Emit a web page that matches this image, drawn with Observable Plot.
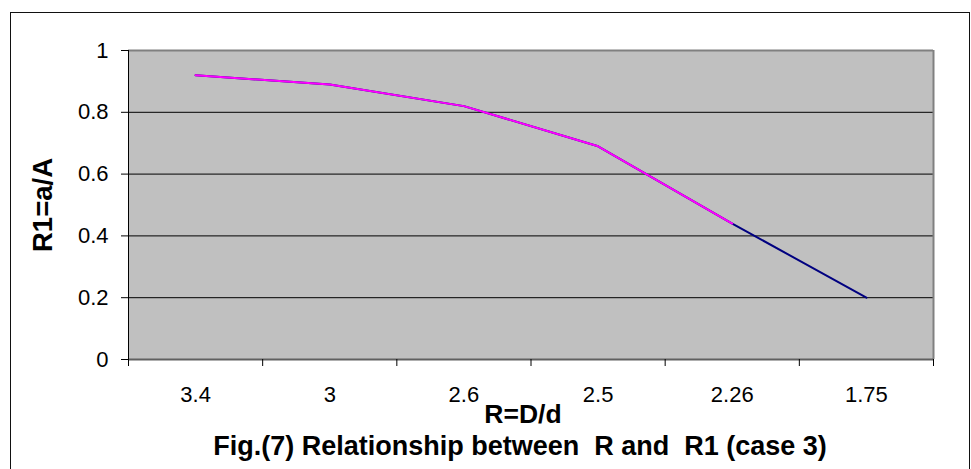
<!DOCTYPE html>
<html>
<head>
<meta charset="utf-8">
<script src="https://cdn.jsdelivr.net/npm/d3@7"></script>
<script src="https://cdn.jsdelivr.net/npm/@observablehq/plot@0.6"></script>
<style>
  html, body { margin: 0; padding: 0; background: #fff; }
  #wrap { position: relative; width: 971px; height: 469px; overflow: hidden; }
  #wrap svg { display: block; }
  #border { position: absolute; left: 10px; top: 12px; width: 958px; height: 480px; border: 1.5px solid #111; pointer-events: none; }
</style>
</head>
<body>
<div id="wrap"><div id="border"></div></div>
<script>
// Data
const categories = ["3.4", "3", "2.6", "2.5", "2.26", "1.75"];
const seriesNavy = [0.92, 0.89, 0.82, 0.69, 0.44, 0.20];
const seriesMagenta = [0.92, 0.89, 0.82, 0.69, 0.44];
const yTicks = [0, 0.2, 0.4, 0.6, 0.8, 1];
const xTitle = "R=D/d";
const yTitle = "R1=a/A";
const caption = "Fig.(7) Relationship between  R and  R1 (case 3)";

const n = categories.length;
const navy = seriesNavy.map((v, i) => ({i: i + 0.5, v}));
const magenta = seriesMagenta.map((v, i) => ({i: i + 0.5, v}));
const boundaries = d3.range(0, n + 1);
const centers = categories.map((c, i) => i + 0.5);
const font = "'Liberation Sans', Arial, sans-serif";

const chart = Plot.plot({
  width: 971,
  height: 469,
  marginLeft: 128,
  marginRight: 38,
  marginTop: 50,
  marginBottom: 110,
  style: {fontFamily: font, fontSize: "22px", color: "#000", background: "transparent", overflow: "visible"},
  x: {type: "linear", domain: [0, n], axis: null},
  y: {domain: [0, 1], axis: null},
  marks: [
    Plot.frame({fill: "#C0C0C0", stroke: null}),
    Plot.ruleY(yTicks.filter(d => d > 0 && d < 1), {stroke: "#000", strokeWidth: 1}),
    Plot.ruleY([1], {stroke: "#808080", strokeWidth: 2}),
    Plot.ruleX([n], {stroke: "#808080", strokeWidth: 2}),
    Plot.ruleY([0], {stroke: "#606060", strokeWidth: 2}),
    Plot.ruleX([0], {stroke: "#000", strokeWidth: 1}),
    Plot.axisY(yTicks, {anchor: "left", tickSize: 7, tickFormat: () => "", label: null}),
    Plot.text(yTicks, {x: () => 0, y: d => d, text: d => String(d), dx: -20, textAnchor: "end", lineAnchor: "middle", fontSize: 22}),
    Plot.axisX(boundaries, {anchor: "bottom", tickSize: 7, tickFormat: () => "", label: null}),
    Plot.axisX(centers, {anchor: "bottom", tickSize: 0, tickPadding: 27, tickFormat: d => categories[Math.floor(d)], label: null, fontSize: 22}),
    Plot.line(navy, {x: "i", y: "v", stroke: "#000080", strokeWidth: 2}),
    Plot.line(magenta, {x: "i", y: "v", stroke: "#FF00FF", strokeWidth: 2}),
    Plot.text([yTitle], {text: d => d, frameAnchor: "left", rotate: -90, dx: -85, textAnchor: "middle", lineAnchor: "middle", fontSize: 27.5, fontWeight: "bold"}),
    Plot.text([xTitle], {text: d => d, frameAnchor: "bottom", dx: -8, dy: 55, textAnchor: "middle", lineAnchor: "middle", fontSize: 26.5, fontWeight: "bold"}),
    Plot.text([caption], {text: d => d, frameAnchor: "bottom", dx: -11, dy: 87, textAnchor: "middle", lineAnchor: "middle", fontSize: 27, fontWeight: "bold"})
  ]
});
document.getElementById("wrap").prepend(chart);
</script>
</body>
</html>
